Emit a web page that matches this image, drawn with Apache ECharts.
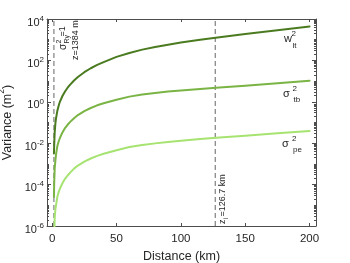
<!DOCTYPE html>
<html><head><meta charset="utf-8">
<script src="https://cdn.jsdelivr.net/npm/echarts@6/dist/echarts.min.js"></script>
<style>html,body{margin:0;padding:0;background:#fff}#c{width:350px;height:263px}</style>
</head><body><div id="c"></div>
<script>
// ---- data ----
const distanceKm = [1.384, 1.6, 2, 2.5, 3, 4, 5, 6, 8, 10, 12, 14, 17, 20, 25, 30, 35, 40, 50, 60, 70, 80, 90, 100, 115, 130, 150, 175, 200];
const wlt2   = [0.00316, 0.0089, 0.0355, 0.089, 0.158, 0.355, 0.63, 1.0, 1.9, 3.16, 4.8, 6.8, 10.7, 15.8, 26.9, 41.7, 60.3, 83.2, 148, 229, 331, 447, 575, 724, 1000, 1318, 1862, 2884, 4365];
const sigTb2 = [2.5e-5, 1.26e-4, 6.3e-4, 1.41e-3, 2.82e-3, 7.1e-3, 0.0117, 0.0178, 0.0331, 0.0537, 0.0776, 0.107, 0.162, 0.229, 0.355, 0.501, 0.676, 0.851, 1.26, 1.78, 2.24, 2.69, 3.16, 3.55, 4.17, 4.90, 6.03, 7.94, 10.5];
const sigPe2 = [1e-7, 4e-7, 2.5e-6, 6.3e-6, 1.0e-5, 2.5e-5, 4.2e-5, 6.3e-5, 1.17e-4, 1.91e-4, 2.75e-4, 3.8e-4, 5.9e-4, 8.3e-4, 1.29e-3, 1.82e-3, 2.45e-3, 3.09e-3, 4.57e-3, 6.5e-3, 8.1e-3, 9.8e-3, 0.0115, 0.0132, 0.0158, 0.0186, 0.0229, 0.0302, 0.0389];
const markerKm = [1.384, 126.7];
const xTickValues = [0, 50, 100, 150, 200];
const yLabelExponents = [-6, -4, -2, 0, 2, 4];
const yMinorMantissas = [2, 3, 4, 5, 6, 7, 8, 9];

// ---- helpers ----
const FONT = '"Liberation Sans", Arial, Helvetica, sans-serif';
const TXT = '#262626';
const AX = '#4d4d4d';
const C_WLT = '#4b7b20';
const C_TB = '#7ab445';
const C_PE = '#a6e370';

const yMinorTicks = [];
for (let k = yLabelExponents[0]; k < yLabelExponents[yLabelExponents.length - 1]; k++) {
  if (yLabelExponents.indexOf(k) < 0) yMinorTicks.push(k);
  yMinorMantissas.forEach(m => yMinorTicks.push(k + Math.log10(m)));
}
const pairs = (xs, ys) => xs.map((x, i) => [x, ys[i]]);
const vline = x => [[x, 1e-6], [x, 1e4]];

const baseX = {
  type: 'value', min: -4, max: 205, splitLine: {show: false},
  axisLine: {show: true, onZero: false, lineStyle: {color: AX, width: 1}},
  axisTick: {show: true, inside: true, length: 3, customValues: xTickValues, lineStyle: {color: AX}}
};
const baseY = {
  type: 'value', min: -6, max: 4, interval: 2, splitLine: {show: false},
  axisLine: {show: false, onZero: false, lineStyle: {color: AX, width: 1}},
  axisLabel: {show: false}
};

const chart = echarts.init(document.getElementById('c'), null, {renderer: 'canvas'});
const tStyle = (text, size, extra) => Object.assign({text: text, fontSize: size, fontFamily: FONT, fill: TXT, align: 'left', verticalAlign: 'middle'}, extra || {});
const curve = (ys, color) => ({
  type: 'line', xAxisIndex: 0, yAxisIndex: 0, data: pairs(distanceKm, ys), symbol: 'none',
  smooth: false, clip: true, lineStyle: {color: color, width: 2, join: 'round', cap: 'round'}
});

chart.setOption({
  animation: false,
  backgroundColor: '#fff',
  grid: {left: 47, right: 34, top: 19, bottom: 37, containLabel: false, outerBoundsMode: 'none'},
  xAxis: [
    Object.assign({}, baseX, {
      position: 'bottom',
      axisLabel: {customValues: xTickValues, margin: 7, fontSize: 11.5, color: TXT, fontFamily: FONT},
      name: 'Distance (km)', nameLocation: 'middle', nameGap: 23,
      nameTextStyle: {fontSize: 12.5, color: TXT, fontFamily: FONT}
    }),
    Object.assign({}, baseX, {position: 'top', axisLabel: {show: false}})
  ],
  yAxis: [
    {type: 'log', logBase: 10, min: 1e-6, max: 1e4, show: false, position: 'left'},
    Object.assign({}, baseY, {
      position: 'left',
      axisLine: {show: true, onZero: false, lineStyle: {color: AX, width: 1}},
      axisTick: {show: true, inside: true, length: 4, lineStyle: {color: AX}},
      axisLabel: {
        show: true, margin: 3, color: TXT, fontFamily: FONT, padding: [7, 0, 0, 0],
        formatter: v => '{b|10}{s|' + v + '}',
        rich: {
          b: {fontSize: 11, lineHeight: 16, fontFamily: FONT, color: TXT},
          s: {fontSize: 8, lineHeight: 8, verticalAlign: 'top', fontFamily: FONT, color: TXT}
        }
      },
      name: '{a|Variance (m}{s|2}{a|)}', nameLocation: 'middle', nameGap: 24, nameRotate: 90,
      nameTextStyle: {
        rich: {
          a: {fontSize: 12.5, lineHeight: 20, fontFamily: FONT, color: TXT},
          s: {fontSize: 8.5, lineHeight: 8, verticalAlign: 'top', fontFamily: FONT, color: TXT}
        }
      }
    }),
    Object.assign({}, baseY, {position: 'left',
      axisTick: {show: true, inside: true, length: 2, customValues: yMinorTicks, lineStyle: {color: AX}}}),
    Object.assign({}, baseY, {position: 'right',
      axisLine: {show: true, onZero: false, lineStyle: {color: AX, width: 1}},
      axisTick: {show: true, inside: true, length: 4, lineStyle: {color: AX}}}),
    Object.assign({}, baseY, {position: 'right',
      axisTick: {show: true, inside: true, length: 2, customValues: yMinorTicks, lineStyle: {color: AX}}})
  ],
  series: [
    ...markerKm.map(z => ({
      type: 'line', xAxisIndex: 0, yAxisIndex: 0, data: vline(z), symbol: 'none', silent: true,
      lineStyle: {color: '#555', width: 0.9, type: [5, 3]}
    })),
    curve(sigPe2, C_PE),
    curve(sigTb2, C_TB),
    curve(wlt2, C_WLT)
  ],
  graphic: [
    {type: 'group', x: 56, y: 50, rotation: Math.PI / 2, children: [
      {type: 'text', x: 0, y: 7, style: tStyle('σ', 10)},
      {type: 'text', x: 6.5, y: 3, style: tStyle('2', 7)},
      {type: 'text', x: 6.5, y: 11, style: tStyle('Ry', 7)},
      {type: 'text', x: 13.5, y: 7, style: tStyle('=1', 9)}
    ]},
    {type: 'text', x: 76, y: 60, rotation: Math.PI / 2, style: tStyle('z=1384 m', 9)},
    {type: 'group', x: 218, y: 224, rotation: Math.PI / 2, children: [
      {type: 'text', x: 0, y: 5, style: tStyle('z', 9)},
      {type: 'text', x: 5, y: 8.5, style: tStyle('i', 7)},
      {type: 'text', x: 7.5, y: 5, style: tStyle('=126.7 km', 9)}
    ]},
    {type: 'text', x: 284, y: 38.5, style: tStyle('w', 11)},
    {type: 'text', x: 291.5, y: 34, style: tStyle('2', 8)},
    {type: 'text', x: 292.5, y: 46, style: tStyle('lt', 8)},
    {type: 'text', x: 283, y: 93.5, style: tStyle('σ', 11)},
    {type: 'text', x: 292.5, y: 88.5, style: tStyle('2', 8)},
    {type: 'text', x: 293.5, y: 100, style: tStyle('tb', 8)},
    {type: 'text', x: 282, y: 143.5, style: tStyle('σ', 11)},
    {type: 'text', x: 292, y: 138.3, style: tStyle('2', 8)},
    {type: 'text', x: 293, y: 149.5, style: tStyle('pe', 8)}
  ]
});
</script></body></html>
